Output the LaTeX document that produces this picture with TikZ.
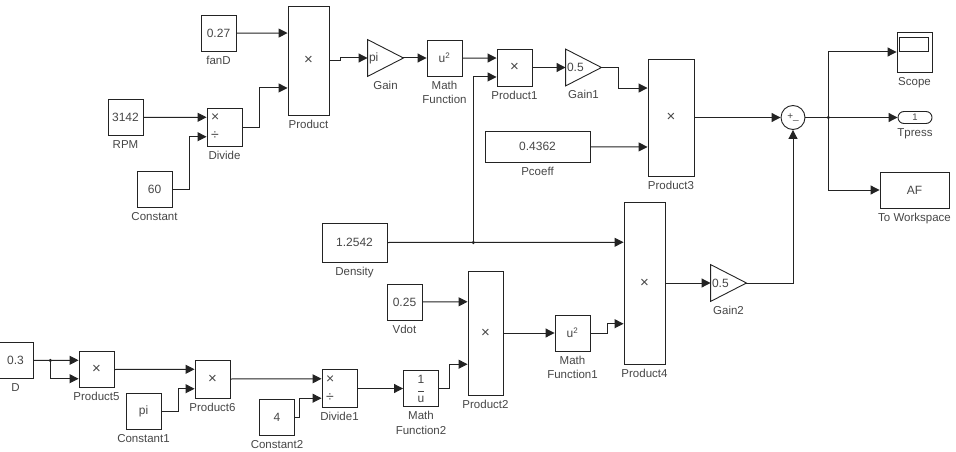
\documentclass[tikz,border=0pt]{standalone}
\usepackage{fontspec}
\setmainfont{Liberation Sans}
\usetikzlibrary{arrows.meta, positioning, calc}
\definecolor{lineGray}{RGB}{35, 35, 35}
\definecolor{textGray}{RGB}{70, 70, 70}
\tikzset{
    block/.style={draw=lineGray, line width=0.9pt, inner sep=1pt, align=center, text=textGray, font=\fontsize{12}{13}\selectfont, minimum width=35pt, minimum height=36pt},
    tag/.style={font=\fontsize{11.5}{14.5}\selectfont, text=textGray, align=center, inner sep=1pt},
    gainbox/.style={block, draw=none, text width=33pt, align=left},
    mult/.style={block, font=\fontsize{15}{15}\selectfont},
    divbox/.style={block, minimum height=38pt, text width=27pt, align=left, font=\fontsize{14}{15}\selectfont},
    arrow/.style={-{Triangle[length=9pt, width=9pt]}, line width=1pt, draw=lineGray},
    wire/.style={line width=1pt, draw=lineGray},
    junction/.style={circle, fill=lineGray, inner sep=0pt, minimum size=3.5pt}
}

\begin{document}
\begin{tikzpicture}[x=1pt, y=-1pt, every label/.style={tag}, label distance=3.5pt]
    \useasboundingbox (0,0) rectangle (956,452);

    % --- upper chain ---
    \node[block, label=below:fanD] (fanD) at (218.5,33.25) {0.27};
    \node[mult, minimum width=41pt, minimum height=109pt, label=below:Product] (prod) at (308.5,60.5) {×};
    \node[block, label=below:RPM] (rpm) at (125.5,117.5) {3142};
    \node[divbox, label=below:Divide] (divide) at (224.5,127) {×\\[3pt]÷};
    \node[block, label=below:Constant] (const) at (154.5,189.5) {60};
    \node[gainbox, label=below:Gain] (gain) at (385.5,58) {pi};
    \node[block, label={below:{Math\\Function}}] (mathFn) at (444.5,58) {u\textsuperscript{2}};
    \node[mult, minimum height=37pt, label=below:Product1] (prod1) at (514.5,67.5) {×};
    \node[gainbox, label=below:Gain1] (gain1) at (583.5,67.5) {0.5};
    \node[block, minimum width=105pt, minimum height=31pt, label=below:Pcoeff] (pcoeff) at (537.5,146.75) {0.4362};
    \node[mult, minimum width=46pt, minimum height=117pt, label=below:Product3] (prod3) at (671,117.5) {×};

    % --- outputs ---
    \node[circle, draw=lineGray, line width=0.9pt, minimum size=24pt, inner sep=0pt, text=textGray, font=\fontsize{10}{10}\selectfont] (sum) at (793,117.5) {+\_};
    \node[block, minimum height=40pt, label=below:Scope] (scope) at (914.5,52) {};
    \node[block, minimum width=34pt, minimum height=12pt, rounded corners=6pt, font=\fontsize{9.5}{10}\selectfont, label=below:Tpress] (tpress) at (915,117.5) {1};
    \node[block, minimum width=69pt, label=below:To Workspace] (toWs) at (914.5,190) {AF};

    % --- lower chain ---
    \node[block, minimum width=65pt, minimum height=39pt, label=below:Density] (dens) at (354.5,242.5) {1.2542};
    \node[block, label=below:Vdot] (vdot) at (404.5,302) {0.25};
    \node[mult, minimum height=124pt, label=below:Product2] (prod2) at (485.5,333) {×};
    \node[block, label={below:{Math\\Function1}}] (mathFn1) at (572.5,333) {u\textsuperscript{2}};
    \node[mult, minimum width=41pt, minimum height=162pt, label=below:Product4] (prod4) at (644.5,283) {×};
    \node[gainbox, label=below:Gain2] (gain2) at (728.5,283) {0.5};

    \node[block, label=below:D] (dia) at (15.5,360.5) {0.3};
    \node[mult, label=below:Product5] (prod5) at (96.5,369.5) {×};
    \node[block, label=below:Constant1] (const1) at (143.5,411.5) {pi};
    \node[mult, minimum height=38pt, label=below:Product6] (prod6) at (212.5,379) {×};
    \node[block, label=below:Constant2] (const2) at (277,417.5) {4};
    \node[divbox, label=below:Divide1] (div1) at (339.5,388.5) {×\\[3pt]÷};
    \node[block, label={below:{Math\\Function2}}] (mathFn2) at (421,388.5) {1\\[-4pt]\rule{6pt}{0.6pt}\\[-3pt]u};

    % gain triangles and scope screen
    \foreach \g in {gain, gain1, gain2}
        \draw[line width=0.9pt, lineGray] (\g.north west) -- (\g.east) -- (\g.south west) -- cycle;
    \draw[line width=0.9pt, lineGray] ($(scope.north west)+(3,6)$) rectangle ($(scope.north east)+(-4,20)$);

    % input ports
    \foreach \b in {prod, divide, prod1, prod3, prod2, prod4, prod5, prod6, div1} {
        \coordinate (\b-1) at ($(\b.north west)!0.25!(\b.south west)$);
        \coordinate (\b-2) at ($(\b.north west)!0.75!(\b.south west)$);
    }
    \coordinate (densSplit) at ($(dens.east)+(86,0)$);
    \coordinate (sumSplit) at ($(sum.east)+(23,0)$);
    \coordinate (diaSplit) at ($(dia.east)+(17,0)$);

    % --- upper wires ---
    \draw[arrow] (fanD.east) -- (prod-1);
    \draw[arrow] (rpm.east) -- (divide-1);
    \draw[arrow] (const.east) -- ++(17,0) |- (divide-2);
    \draw[arrow] (divide.east) -- ++(17,0) |- (prod-2);
    \draw[arrow] (prod.east) -- ++(11,0) |- (gain.west);
    \draw[arrow] (gain.east) -- (mathFn.west);
    \draw[arrow] (mathFn.east) -- (prod1-1);
    \draw[arrow] (prod1.east) -- (gain1.west);
    \draw[arrow] (gain1.east) -- ++(17,0) |- (prod3-1);
    \draw[arrow] (pcoeff.east) -- (prod3-2);
    \draw[arrow] (prod3.east) -- (sum.west);

    % --- output wires ---
    \draw[wire] (sum.east) -- (sumSplit);
    \draw[arrow] (sumSplit) |- (scope.west);
    \draw[arrow] (sumSplit) -- (tpress.west);
    \draw[arrow] (sumSplit) |- (toWs.west);
    \node[junction] (sumDot) at (sumSplit) {};
    \draw[arrow] (gain2.east) -| (sum.south);

    % --- lower wires ---
    \draw[arrow] (dens.east) -- (prod4-1);
    \draw[arrow] (densSplit) |- (prod1-2);
    \node[junction] (densDot) at (densSplit) {};
    \draw[arrow] (vdot.east) -- (prod2-1);
    \draw[arrow] (prod2.east) -- (mathFn1.west);
    \draw[arrow] (mathFn1.east) -- ++(17,0) |- (prod4-2);
    \draw[arrow] (prod4.east) -- (gain2.west);

    \draw[arrow] (dia.east) -- (prod5-1);
    \draw[arrow] (diaSplit) |- (prod5-2);
    \node[junction] (diaDot) at (diaSplit) {};
    \draw[arrow] (prod5.east) -- (prod6-1);
    \draw[arrow] (const1.east) -- ++(17,0) |- (prod6-2);
    \draw[arrow] (prod6.east) -- (div1-1);
    \draw[arrow] (const2.east) -- ++(5,0) |- (div1-2);
    \draw[arrow] (div1.east) -- (mathFn2.west);
    \draw[arrow] (mathFn2.east) -- ++(11,0) |- (prod2-2);
\end{tikzpicture}
\end{document}
